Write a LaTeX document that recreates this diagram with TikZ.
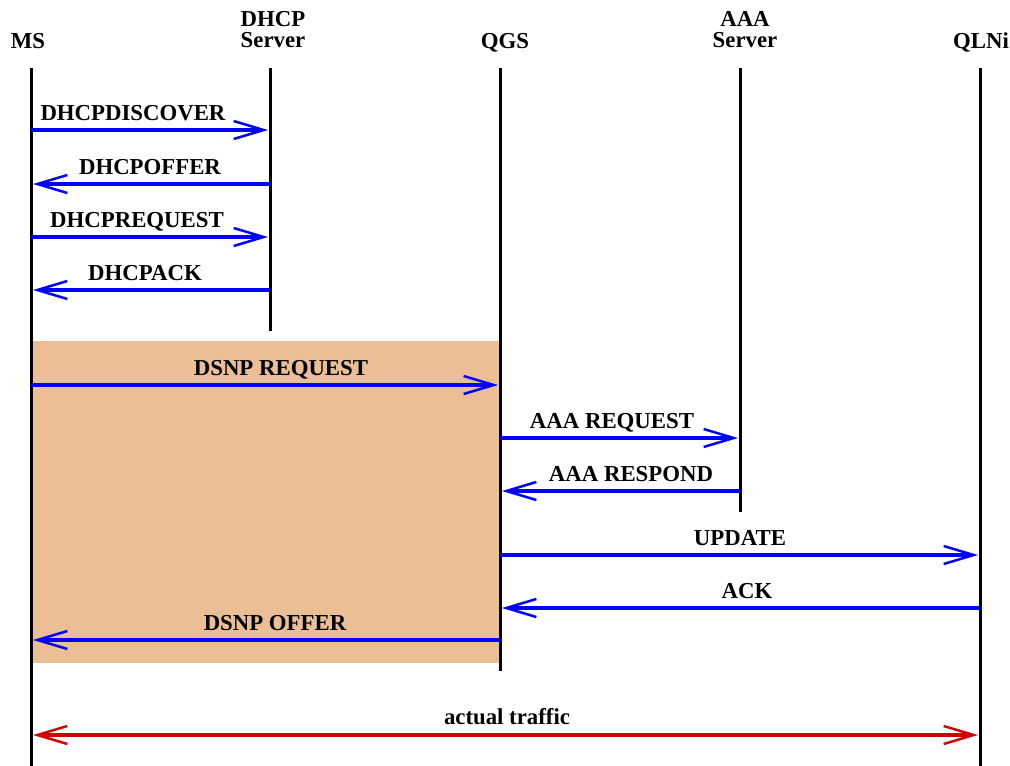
\documentclass[tikz,border=0pt]{standalone}
\usepackage{fontspec}
\setmainfont{Liberation Serif}
\usetikzlibrary{arrows.meta}
\definecolor{beige}{RGB}{235,191,150}
\definecolor{msgblue}{RGB}{0,0,255}
\definecolor{trafred}{RGB}{210,0,0}
\begin{document}
\begin{tikzpicture}[x=1pt,y=-1pt,
  lifeline/.style={line width=3pt,black},
  msg/.style={line width=3.5pt,msgblue,-{Straight Barb[length=30pt,width=18pt,line width=2.5pt]}},
  traffic/.style={line width=3.5pt,trafred,{Straight Barb[length=30pt,width=18pt,line width=2.5pt]}-{Straight Barb[length=30pt,width=18pt,line width=2.5pt]}},
  lbl/.style={font=\fontsize{22.8}{25}\selectfont\bfseries,anchor=base,inner sep=0pt},
  hdr/.style={font=\fontsize{22.8}{21}\selectfont\bfseries,align=center,anchor=base,inner sep=0pt}]
\useasboundingbox (0,0) rectangle (1010,766);
% shaded box
\fill[beige] (31,341) rectangle (500,663);
% headers
\node[hdr] (hMS) at (28,48) {MS};
\node[hdr] (hDHCP) at (273,47) {DHCP\\Server};
\node[hdr] (hQGS) at (505,48) {QGS};
\node[hdr] (hAAA) at (745,47) {AAA\\Server};
\node[hdr] (hQLN) at (981,48) {QLNi};
% lifelines
\coordinate (msT) at (31,68); \coordinate (msB) at (31,766);
\coordinate (dhT) at (270,68); \coordinate (dhB) at (270,331);
\coordinate (qgT) at (500,68); \coordinate (qgB) at (500,671);
\coordinate (aaT) at (740,68); \coordinate (aaB) at (740,512);
\coordinate (qlT) at (980,68); \coordinate (qlB) at (980,766);
\draw[lifeline] (msT) -- (msB);
\draw[lifeline] (dhT) -- (dhB);
\draw[lifeline] (qgT) -- (qgB);
\draw[lifeline] (aaT) -- (aaB);
\draw[lifeline] (qlT) -- (qlB);
% message end points
\coordinate (m1a) at (31,130); \coordinate (m1b) at (268,130);
\coordinate (m2a) at (270,184); \coordinate (m2b) at (33,184);
\coordinate (m3a) at (31,237); \coordinate (m3b) at (268,237);
\coordinate (m4a) at (270,290); \coordinate (m4b) at (33,290);
\coordinate (m5a) at (31,385); \coordinate (m5b) at (498,385);
\coordinate (m6a) at (500,438); \coordinate (m6b) at (738,438);
\coordinate (m7a) at (740,491); \coordinate (m7b) at (502,491);
\coordinate (m8a) at (500,555); \coordinate (m8b) at (978,555);
\coordinate (m9a) at (980,608); \coordinate (m9b) at (502,608);
\coordinate (m10a) at (500,640); \coordinate (m10b) at (33,640);
\coordinate (t1) at (33,735); \coordinate (t2) at (978,735);
\draw[msg] (m1a) -- (m1b);
\draw[msg] (m2a) -- (m2b);
\draw[msg] (m3a) -- (m3b);
\draw[msg] (m4a) -- (m4b);
\draw[msg] (m5a) -- (m5b);
\draw[msg] (m6a) -- (m6b);
\draw[msg] (m7a) -- (m7b);
\draw[msg] (m8a) -- (m8b);
\draw[msg] (m9a) -- (m9b);
\draw[msg] (m10a) -- (m10b);
\draw[traffic] (t1) -- (t2);
% labels
\node[lbl] (l1) at (133,120) {DHCPDISCOVER};
\node[lbl] (l2) at (150,174) {DHCPOFFER};
\node[lbl] (l3) at (137,227) {DHCPREQUEST};
\node[lbl] (l4) at (145,280) {DHCPACK};
\node[lbl] (l5) at (281,375) {DSNP REQUEST};
\node[lbl] (l6) at (612,428) {AAA REQUEST};
\node[lbl] (l7) at (631,481) {AAA RESPOND};
\node[lbl] (l8) at (740,545) {UPDATE};
\node[lbl] (l9) at (747,598) {ACK};
\node[lbl] (l10) at (275,630) {DSNP OFFER};
\node[lbl] (l11) at (507,724) {actual traffic};
\end{tikzpicture}
\end{document}
